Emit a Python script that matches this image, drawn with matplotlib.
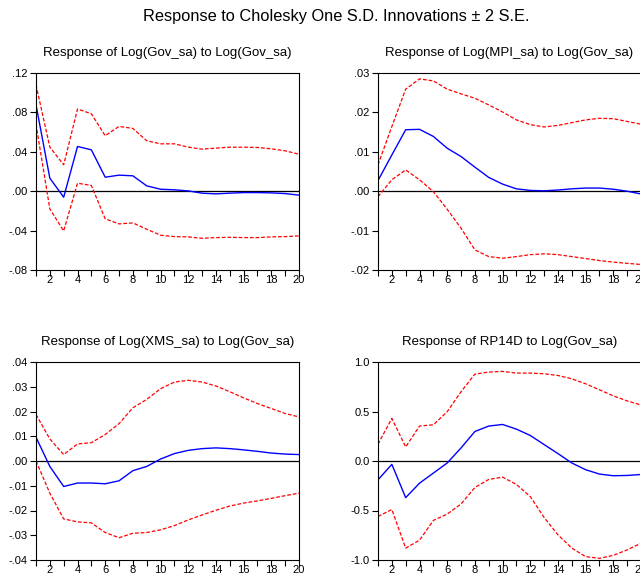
import numpy as np
import matplotlib
matplotlib.use("Agg")
import matplotlib.pyplot as plt
from matplotlib.ticker import FuncFormatter, MultipleLocator

plt.rcParams['font.family'] = ['Liberation Sans', 'DejaVu Sans']

periods = np.arange(1, 21)

# Response of Log(Gov_sa) to Log(Gov_sa)
gov_resp = [0.0878, 0.0132, -0.0061, 0.0454, 0.042, 0.0142, 0.0163, 0.0156, 0.0054, 0.002,
            0.0014, 0.0003, -0.002, -0.0027, -0.002, -0.0014, -0.0014, -0.0017, -0.0024, -0.004]
gov_up = [0.108, 0.0447, 0.0268, 0.0834, 0.0786, 0.0563, 0.0658, 0.0637, 0.0512, 0.0481,
          0.0481, 0.0447, 0.0427, 0.0437, 0.0447, 0.0447, 0.0444, 0.043, 0.041, 0.0376]
gov_lo = [0.068, -0.018, -0.0403, 0.0081, 0.0058, -0.0281, -0.0332, -0.0322, -0.0386, -0.0447,
          -0.0461, -0.0464, -0.0478, -0.0471, -0.0468, -0.0471, -0.0471, -0.0464, -0.0461, -0.0454]

# Response of Log(MPI_sa) to Log(Gov_sa)
mpi_resp = [0.0027, 0.0092, 0.0156, 0.0157, 0.0139, 0.0109, 0.0088, 0.0061, 0.0035, 0.0018,
            0.0006, 0.0002, 0.0001, 0.0003, 0.0006, 0.0008, 0.0008, 0.0005, 0.0, -0.0007]
mpi_up = [0.0067, 0.0164, 0.0259, 0.0285, 0.028, 0.0259, 0.0247, 0.0236, 0.0219, 0.0201,
          0.0181, 0.0169, 0.0163, 0.0167, 0.0174, 0.0181, 0.0185, 0.0184, 0.0177, 0.017]
mpi_lo = [-0.0014, 0.0029, 0.0054, 0.0029, -0.0001, -0.0046, -0.0094, -0.0149, -0.0166, -0.017,
          -0.0166, -0.0161, -0.0159, -0.0161, -0.0166, -0.0171, -0.0176, -0.018, -0.0183, -0.0186]

# Response of Log(XMS_sa) to Log(Gov_sa)
xms_resp = [0.0096, -0.0022, -0.0103, -0.0089, -0.0089, -0.0092, -0.008, -0.0039, -0.0022, 0.0008,
            0.003, 0.0043, 0.005, 0.0053, 0.005, 0.0045, 0.0039, 0.0032, 0.0028, 0.0026]
xms_up = [0.0188, 0.0089, 0.0026, 0.0069, 0.0074, 0.0107, 0.0151, 0.0215, 0.0249, 0.0292,
          0.0319, 0.0326, 0.0319, 0.0303, 0.028, 0.0255, 0.0232, 0.0212, 0.0192, 0.0178]
xms_lo = [0.0, -0.013, -0.0234, -0.0246, -0.025, -0.0289, -0.031, -0.0292, -0.0289, -0.0278,
          -0.0261, -0.0238, -0.0218, -0.0199, -0.0182, -0.017, -0.0161, -0.0151, -0.014, -0.013]

# Response of RP14D to Log(Gov_sa)
rp_resp = [-0.19, -0.034, -0.37, -0.224, -0.122, -0.02, 0.132, 0.298, 0.353, 0.369,
           0.322, 0.258, 0.166, 0.075, -0.02, -0.088, -0.132, -0.149, -0.146, -0.136]
rp_up = [0.17, 0.43, 0.142, 0.353, 0.366, 0.498, 0.70, 0.878, 0.898, 0.905,
         0.888, 0.888, 0.881, 0.864, 0.83, 0.78, 0.719, 0.658, 0.607, 0.566]
rp_lo = [-0.56, -0.49, -0.88, -0.80, -0.60, -0.536, -0.434, -0.268, -0.186, -0.163,
         -0.237, -0.359, -0.57, -0.746, -0.88, -0.966, -0.983, -0.953, -0.898, -0.83]

titles = ["Response of Log(Gov_sa) to Log(Gov_sa)",
          "Response of Log(MPI_sa) to Log(Gov_sa)",
          "Response of Log(XMS_sa) to Log(Gov_sa)",
          "Response of RP14D to Log(Gov_sa)"]
series = [(gov_resp, gov_up, gov_lo), (mpi_resp, mpi_up, mpi_lo),
          (xms_resp, xms_up, xms_lo), (rp_resp, rp_up, rp_lo)]
ylims = [(-0.08, 0.12), (-0.02, 0.03), (-0.04, 0.04), (-1.0, 1.0)]
ysteps = [0.04, 0.01, 0.01, 0.5]


def eviews_fmt(v, pos):
    # EViews style: drop the leading zero
    s = "%.2f" % v
    if s.startswith("0."):
        s = s[1:]
    elif s.startswith("-0."):
        s = "-" + s[2:]
    return s


def one_fmt(v, pos):
    return "%.1f" % v


fig = plt.figure(figsize=(6.4, 5.78), dpi=100)
fig.text(0.526, 0.971, "Response to Cholesky One S.D. Innovations \u00b1 2 S.E.",
         ha='center', va='center', fontsize=11.8)

W, H = 640.0, 578.0
boxes = [(36, 73, 263, 197), (378, 73, 263, 197),
         (36, 362, 263, 198), (378, 362, 263, 198)]

for i in range(4):
    x0, y0, w, h = boxes[i]
    ax = fig.add_axes([x0 / W, 1 - (y0 + h) / H, w / W, h / H])
    resp, up, lo = series[i]
    ax.axhline(0, color='black', lw=0.9)
    ax.plot(periods, up, color='#ff0000', lw=0.9, ls=(0, (3, 1.5)))
    ax.plot(periods, lo, color='#ff0000', lw=0.9, ls=(0, (3, 1.5)))
    ax.plot(periods, resp, color='#0000ff', lw=1.0)
    ax.set_xlim(1, 20)
    ax.set_ylim(*ylims[i])
    ax.xaxis.set_major_locator(MultipleLocator(2))
    ax.xaxis.set_minor_locator(MultipleLocator(1))
    ax.yaxis.set_major_locator(MultipleLocator(ysteps[i]))
    ax.yaxis.set_major_formatter(FuncFormatter(one_fmt if i == 3 else eviews_fmt))
    ax.tick_params(axis='both', which='both', direction='out', labelsize=8,
                   top=False, right=False, width=0.8)
    ax.tick_params(axis='both', which='major', length=4)
    ax.tick_params(axis='x', which='minor', length=4)
    ax.tick_params(axis='x', pad=-0.5)
    ax.tick_params(axis='y', pad=2)
    for sp in ax.spines.values():
        sp.set_linewidth(0.8)
    ax.set_title(titles[i], fontsize=9.5, pad=12)

fig.savefig("out.png", dpi=100)
